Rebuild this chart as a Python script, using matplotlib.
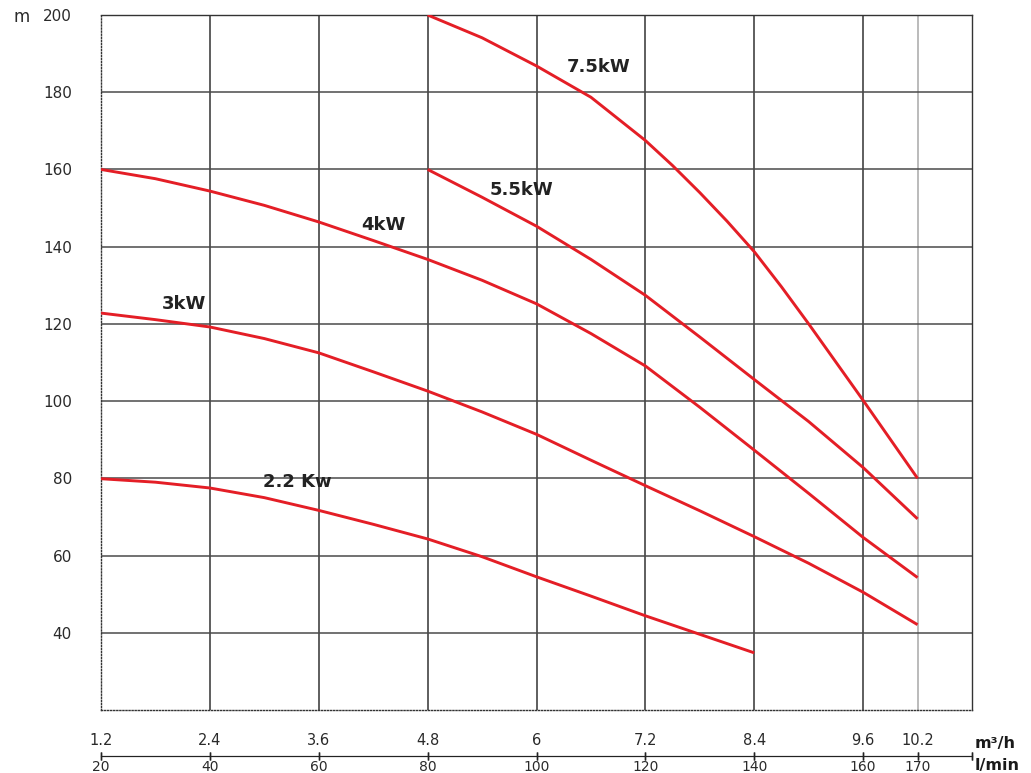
import matplotlib
matplotlib.use("Agg")
import matplotlib.pyplot as plt
from matplotlib.ticker import FixedLocator, FixedFormatter

plt.rcParams["font.family"] = ["DejaVu Sans"]

# ---- data ----
flow_75 = [80, 90, 100, 110, 120, 125, 130, 135, 140, 145, 150, 160, 170]
head_75 = [200, 194.1, 186.8, 178.7, 167.5, 161.0, 154.0, 146.6, 138.7, 129.6, 120, 100.2, 80]

flow_55 = [80, 90, 100, 110, 120, 130, 140, 150, 160, 170]
head_55 = [160, 152.8, 145.3, 136.7, 127.4, 116.6, 105.6, 94.7, 82.8, 69.5]

flow_4 = [20, 30, 40, 50, 60, 70, 80, 90, 100, 110, 120, 130, 140, 150, 160, 170]
head_4 = [160, 157.6, 154.4, 150.7, 146.4, 141.6, 136.7, 131.3, 125.2, 117.5, 109.1, 98.4, 87.3, 76.1, 64.7, 54.3]

flow_3 = [20, 30, 40, 50, 60, 70, 80, 90, 100, 110, 120, 130, 140, 150, 160, 170]
head_3 = [122.8, 121.1, 119.2, 116.2, 112.5, 107.6, 102.6, 97.2, 91.4, 84.7, 78.1, 71.6, 64.9, 58, 50.5, 42.1]

flow_22 = [20, 30, 40, 50, 60, 70, 80, 90, 100, 110, 120, 130, 140]
head_22 = [79.9, 79, 77.5, 75, 71.7, 68.1, 64.3, 59.7, 54.5, 49.5, 44.4, 39.6, 34.8]

curve_labels = ["7.5kW", "5.5kW", "4kW", "3kW", "2.2 Kw"]
label_pos = [(111.4, 186.5), (97.2, 154.7), (71.9, 145.6), (35.2, 125.2), (56.1, 79.1)]

lmin_ticks = [20, 40, 60, 80, 100, 120, 140, 160, 170, 180]
lmin_labels = ["20", "40", "60", "80", "100", "120", "140", "160", "170", ""]
m3h_labels = ["1.2", "2.4", "3.6", "4.8", "6", "7.2", "8.4", "9.6", "10.2", ""]
y_ticks = [40, 60, 80, 100, 120, 140, 160, 180, 200]

RED = "#e41e26"
GRID = "#333333"
TXT = "#2a2a2a"

fig = plt.figure(figsize=(10.31, 7.73), dpi=100)
ax = fig.add_axes([101/1031, 1 - 710/773, (972-101)/1031, (710-15)/773])
ax.set_xlim(20, 180)
ax.set_ylim(20, 200)

# grid
for x in [40, 60, 80, 100, 120, 140, 160]:
    ax.axvline(x, color=GRID, lw=1.1, zorder=1)
ax.axvline(170, color="#b5b5b5", lw=1.3, zorder=1)
for y in y_ticks[:-1]:
    ax.axhline(y, color="#4a4a4a", lw=1.1, zorder=1)

# spines
ax.spines["top"].set_color(GRID)
ax.spines["right"].set_color(GRID)
ax.spines["left"].set_linestyle((0, (0.8, 1.4)))
ax.spines["bottom"].set_linestyle((0, (0.8, 1.4)))
ax.spines["left"].set_color("#333333")
ax.spines["bottom"].set_color("#333333")
for s in ax.spines.values():
    s.set_linewidth(1.0)

# curves
for fx, hy in [(flow_75, head_75), (flow_55, head_55), (flow_4, head_4),
               (flow_3, head_3), (flow_22, head_22)]:
    ax.plot(fx, hy, color=RED, lw=2.1, zorder=3, solid_capstyle="butt",
            solid_joinstyle="round")

for lab, (lx, ly) in zip(curve_labels, label_pos):
    ax.text(lx, ly, lab, ha="center", va="center", fontsize=13,
            fontweight="semibold", color="#222222", zorder=4)

# y axis
ax.set_yticks(y_ticks)
ax.set_yticklabels([str(v) for v in y_ticks])
ax.tick_params(axis="y", length=0, pad=21, labelsize=11, labelcolor=TXT)
ax.set_xticks([])
ax.text(-0.0999, 0.9965, "m", transform=ax.transAxes, ha="left", va="center",
        fontsize=12, color=TXT)

# secondary flow axes below
loc = -46/695
secB = ax.secondary_xaxis(loc)
secB.xaxis.set_major_locator(FixedLocator(lmin_ticks))
secB.xaxis.set_major_formatter(FixedFormatter(lmin_labels))
secB.tick_params(axis="x", direction="inout", length=6, width=1, pad=0,
                 labelsize=10, labelcolor=TXT, color="#222222")
secB.spines["bottom"].set_color("#222222")

secT = ax.secondary_xaxis(loc)
secT.set_alignment("top")
secT.xaxis.set_major_locator(FixedLocator(lmin_ticks))
secT.xaxis.set_major_formatter(FixedFormatter(m3h_labels))
secT.tick_params(axis="x", direction="inout", length=6, width=1, pad=2.5,
                 labelsize=10.5, labelcolor=TXT, color="#222222")
secT.spines["top"].set_color("#222222")

ax.text(1.003, loc + 0.018, "m³/h", transform=ax.transAxes, ha="left",
        va="center", fontsize=11.5, fontweight="bold", color="#1a1a1a")
ax.text(1.003, loc - 0.0135, "l/min", transform=ax.transAxes, ha="left",
        va="center", fontsize=11.5, fontweight="bold", color="#1a1a1a")

fig.savefig("out.png", dpi=100)
